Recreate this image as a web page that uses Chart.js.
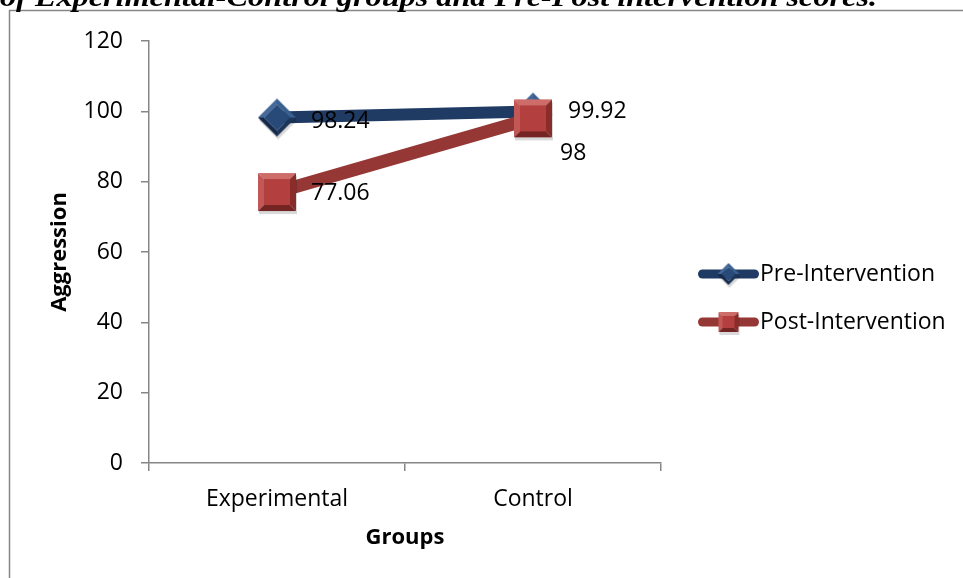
<!DOCTYPE html>
<html><head><meta charset="utf-8">
<script src="https://cdn.jsdelivr.net/npm/chart.js@4.4.0/dist/chart.umd.min.js"></script>
<style>
html,body{margin:0;padding:0;background:#fff;overflow:hidden}
#wrap{position:absolute;left:0;top:0;width:963px;height:578px}
</style></head>
<body><div id="wrap"><canvas id="c" width="963" height="578"></canvas></div>
<script>
// ---- data ----
const categories = ['Experimental', 'Control'];
const seriesNames = ['Pre-Intervention', 'Post-Intervention'];
const preValues = [98.24, 99.92];
const postValues = [77.06, 98];
const yTicks = [0, 20, 40, 60, 80, 100, 120];
const titleText = 'of Experimental-Control groups and Pre-Post intervention scores.';
const xTitle = 'Groups';
const yTitle = 'Aggression';

// ---- styles ----
const FONT = "'Open Sans', 'Liberation Sans', sans-serif";
const AXIS = '#868686';

function poly(g, pts, col){
  g.beginPath(); g.moveTo(pts[0], pts[1]);
  for (let i = 2; i < pts.length; i += 2) g.lineTo(pts[i], pts[i+1]);
  g.closePath(); g.fillStyle = col; g.fill();
}
function bevelSquare(size, bevel, c){
  const pad = 4, cv = document.createElement('canvas');
  cv.width = size + pad*2; cv.height = size + pad*2;
  const g = cv.getContext('2d');
  const x0 = pad, y0 = pad, x1 = pad+size, y1 = pad+size, b = bevel;
  g.fillStyle = 'rgba(0,0,0,0.15)'; g.fillRect(x0+1, y0+3, size, size);
  poly(g, [x0,y0, x1,y0, x1-b,y0+b, x0+b,y0+b], c.top);
  poly(g, [x0,y0, x0+b,y0+b, x0+b,y1-b, x0,y1], c.left);
  poly(g, [x1,y0, x1,y1, x1-b,y1-b, x1-b,y0+b], c.right);
  poly(g, [x0,y1, x0+b,y1-b, x1-b,y1-b, x1,y1], c.bottom);
  poly(g, [x0+b,y0+b, x1-b,y0+b, x1-b,y1-b, x0+b,y1-b], c.base);
  return cv;
}
function bevelDiamond(r, bevel, c){
  const pad = 4, cv = document.createElement('canvas');
  cv.width = r*2 + pad*2; cv.height = r*2 + pad*2;
  const g = cv.getContext('2d');
  const cx = pad + r, cy = pad + r, ri = r - bevel;
  g.save(); g.translate(1, 3);
  poly(g, [cx,cy-r, cx+r,cy, cx,cy+r, cx-r,cy], 'rgba(0,0,0,0.15)');
  g.restore();
  poly(g, [cx-r,cy, cx,cy-r, cx,cy-ri, cx-ri,cy], c.left);
  poly(g, [cx,cy-r, cx+r,cy, cx+ri,cy, cx,cy-ri], c.top);
  poly(g, [cx+r,cy, cx,cy+r, cx,cy+ri, cx+ri,cy], c.right);
  poly(g, [cx,cy+r, cx-r,cy, cx-ri,cy, cx,cy+ri], c.bottom);
  poly(g, [cx,cy-ri, cx+ri,cy, cx,cy+ri, cx-ri,cy], c.base);
  return cv;
}
const blueCols = {base:'#284A78', top:'#3A6090', left:'#44699A', right:'#1C3558', bottom:'#16294A'};
const redCols  = {base:'#B3403E', top:'#CD6C69', left:'#C25856', right:'#8A2C2A', bottom:'#742422'};

const preMarker = bevelDiamond(19, 6, blueCols);
const postMarker = bevelSquare(38, 6, redCols);
const preLegendMarker = bevelDiamond(11, 4, blueCols);
const postLegendMarker = bevelSquare(20, 4, redCols);

// ---- plugins ----
const frame = {
  id: 'frame',
  beforeDraw(chart){
    const ctx = chart.ctx;
    ctx.save();
    ctx.fillStyle = '#fff'; ctx.fillRect(0, 0, chart.width, chart.height);
    ctx.strokeStyle = AXIS; ctx.lineWidth = 1.5;
    ctx.beginPath(); ctx.moveTo(9.5, chart.height + 5); ctx.lineTo(9.5, 10.5); ctx.lineTo(chart.width + 5, 10.5); ctx.stroke();
    ctx.font = "bold italic 28px 'Liberation Serif', 'DejaVu Serif', serif";
    const w = ctx.measureText(titleText).width;
    ctx.translate(0, 6);
    ctx.scale(877 / w, 1);
    ctx.fillStyle = '#000'; ctx.textBaseline = 'alphabetic'; ctx.textAlign = 'left';
    ctx.fillText(titleText, 0, 0);
    ctx.restore();
  }
};
const dataLabels = {
  id: 'dataLabels',
  afterDatasetsDraw(chart){
    const ctx = chart.ctx;
    ctx.save();
    ctx.font = '23px ' + FONT; ctx.fillStyle = '#000';
    ctx.textAlign = 'left'; ctx.textBaseline = 'middle';
    chart.data.datasets.forEach((ds, i) => {
      const meta = chart.getDatasetMeta(i);
      meta.data.forEach((pt, j) => {
        const off = ds.labelOffsets[j];
        ctx.fillText(String(ds.data[j]), pt.x + off[0], pt.y + off[1]);
      });
    });
    ctx.restore();
  }
};
const customLegend = {
  id: 'customLegend',
  afterDraw(chart, args, o){
    const ctx = chart.ctx;
    ctx.save();
    chart.data.datasets.forEach((ds, i) => {
      const y = o.top + i * o.spacing;
      ctx.strokeStyle = ds.borderColor; ctx.lineWidth = o.lineWidth; ctx.lineCap = 'round';
      ctx.beginPath(); ctx.moveTo(o.x + o.lineWidth/2, y); ctx.lineTo(o.x + o.len - o.lineWidth/2, y); ctx.stroke();
      const m = ds.legendMarker;
      ctx.drawImage(m, o.x + o.len/2 - m.width/2, y - m.height/2);
      ctx.font = '23px ' + FONT; ctx.fillStyle = '#000';
      ctx.textAlign = 'left'; ctx.textBaseline = 'middle';
      ctx.fillText(ds.label, o.x + o.len + 1, y);
    });
    ctx.restore();
  }
};

const tickFont = {family: FONT, size: 23};
const titleFont = {family: FONT, size: 22, weight: 'bold'};

new Chart(document.getElementById('c'), {
  type: 'line',
  data: {
    labels: categories,
    datasets: [
      {label: seriesNames[0], data: preValues, borderColor: '#1F3A63', borderWidth: 12,
       pointStyle: preMarker, pointRadius: 19, tension: 0, order: 1,
       legendMarker: preLegendMarker, labelOffsets: [[34, 4], [35, 0]]},
      {label: seriesNames[1], data: postValues, borderColor: '#953735', borderWidth: 13,
       pointStyle: postMarker, pointRadius: 19, tension: 0, order: 0,
       legendMarker: postLegendMarker, labelOffsets: [[34, 1], [27, 35]]}
    ]
  },
  options: {
    responsive: false, animation: false, devicePixelRatio: 1,
    layout: {padding: {left: 0, top: 41, right: 302, bottom: 0}},
    plugins: {
      legend: {display: false}, tooltip: {enabled: false},
      customLegend: {x: 698, len: 61, top: 274, spacing: 48, lineWidth: 9}
    },
    scales: {
      x: {
        offset: true,
        ticks: {padding: 15, font: tickFont, color: '#000'},
        grid: {drawOnChartArea: false, drawTicks: true, tickLength: 8, color: AXIS, lineWidth: 1.5, offset: true},
        border: {color: AXIS, width: 1.5},
        title: {display: true, text: xTitle, font: titleFont, color: '#000', padding: {top: 0, bottom: 27}},
        afterFit(s){ s.height = 115; }
      },
      y: {
        min: 0, max: 120,
        afterBuildTicks(s){ s.ticks = yTicks.map(v => ({value: v})); },
        ticks: {padding: 18, font: tickFont, color: '#000'},
        grid: {drawOnChartArea: false, drawTicks: true, tickLength: 8, color: AXIS, lineWidth: 1.5},
        border: {color: AXIS, width: 1.5},
        title: {display: true, text: yTitle, font: titleFont, color: '#000', padding: {top: 47, bottom: 0}},
        afterFit(s){ s.width = 149; }
      }
    }
  },
  plugins: [frame, dataLabels, customLegend]
});
</script>
</body></html>
